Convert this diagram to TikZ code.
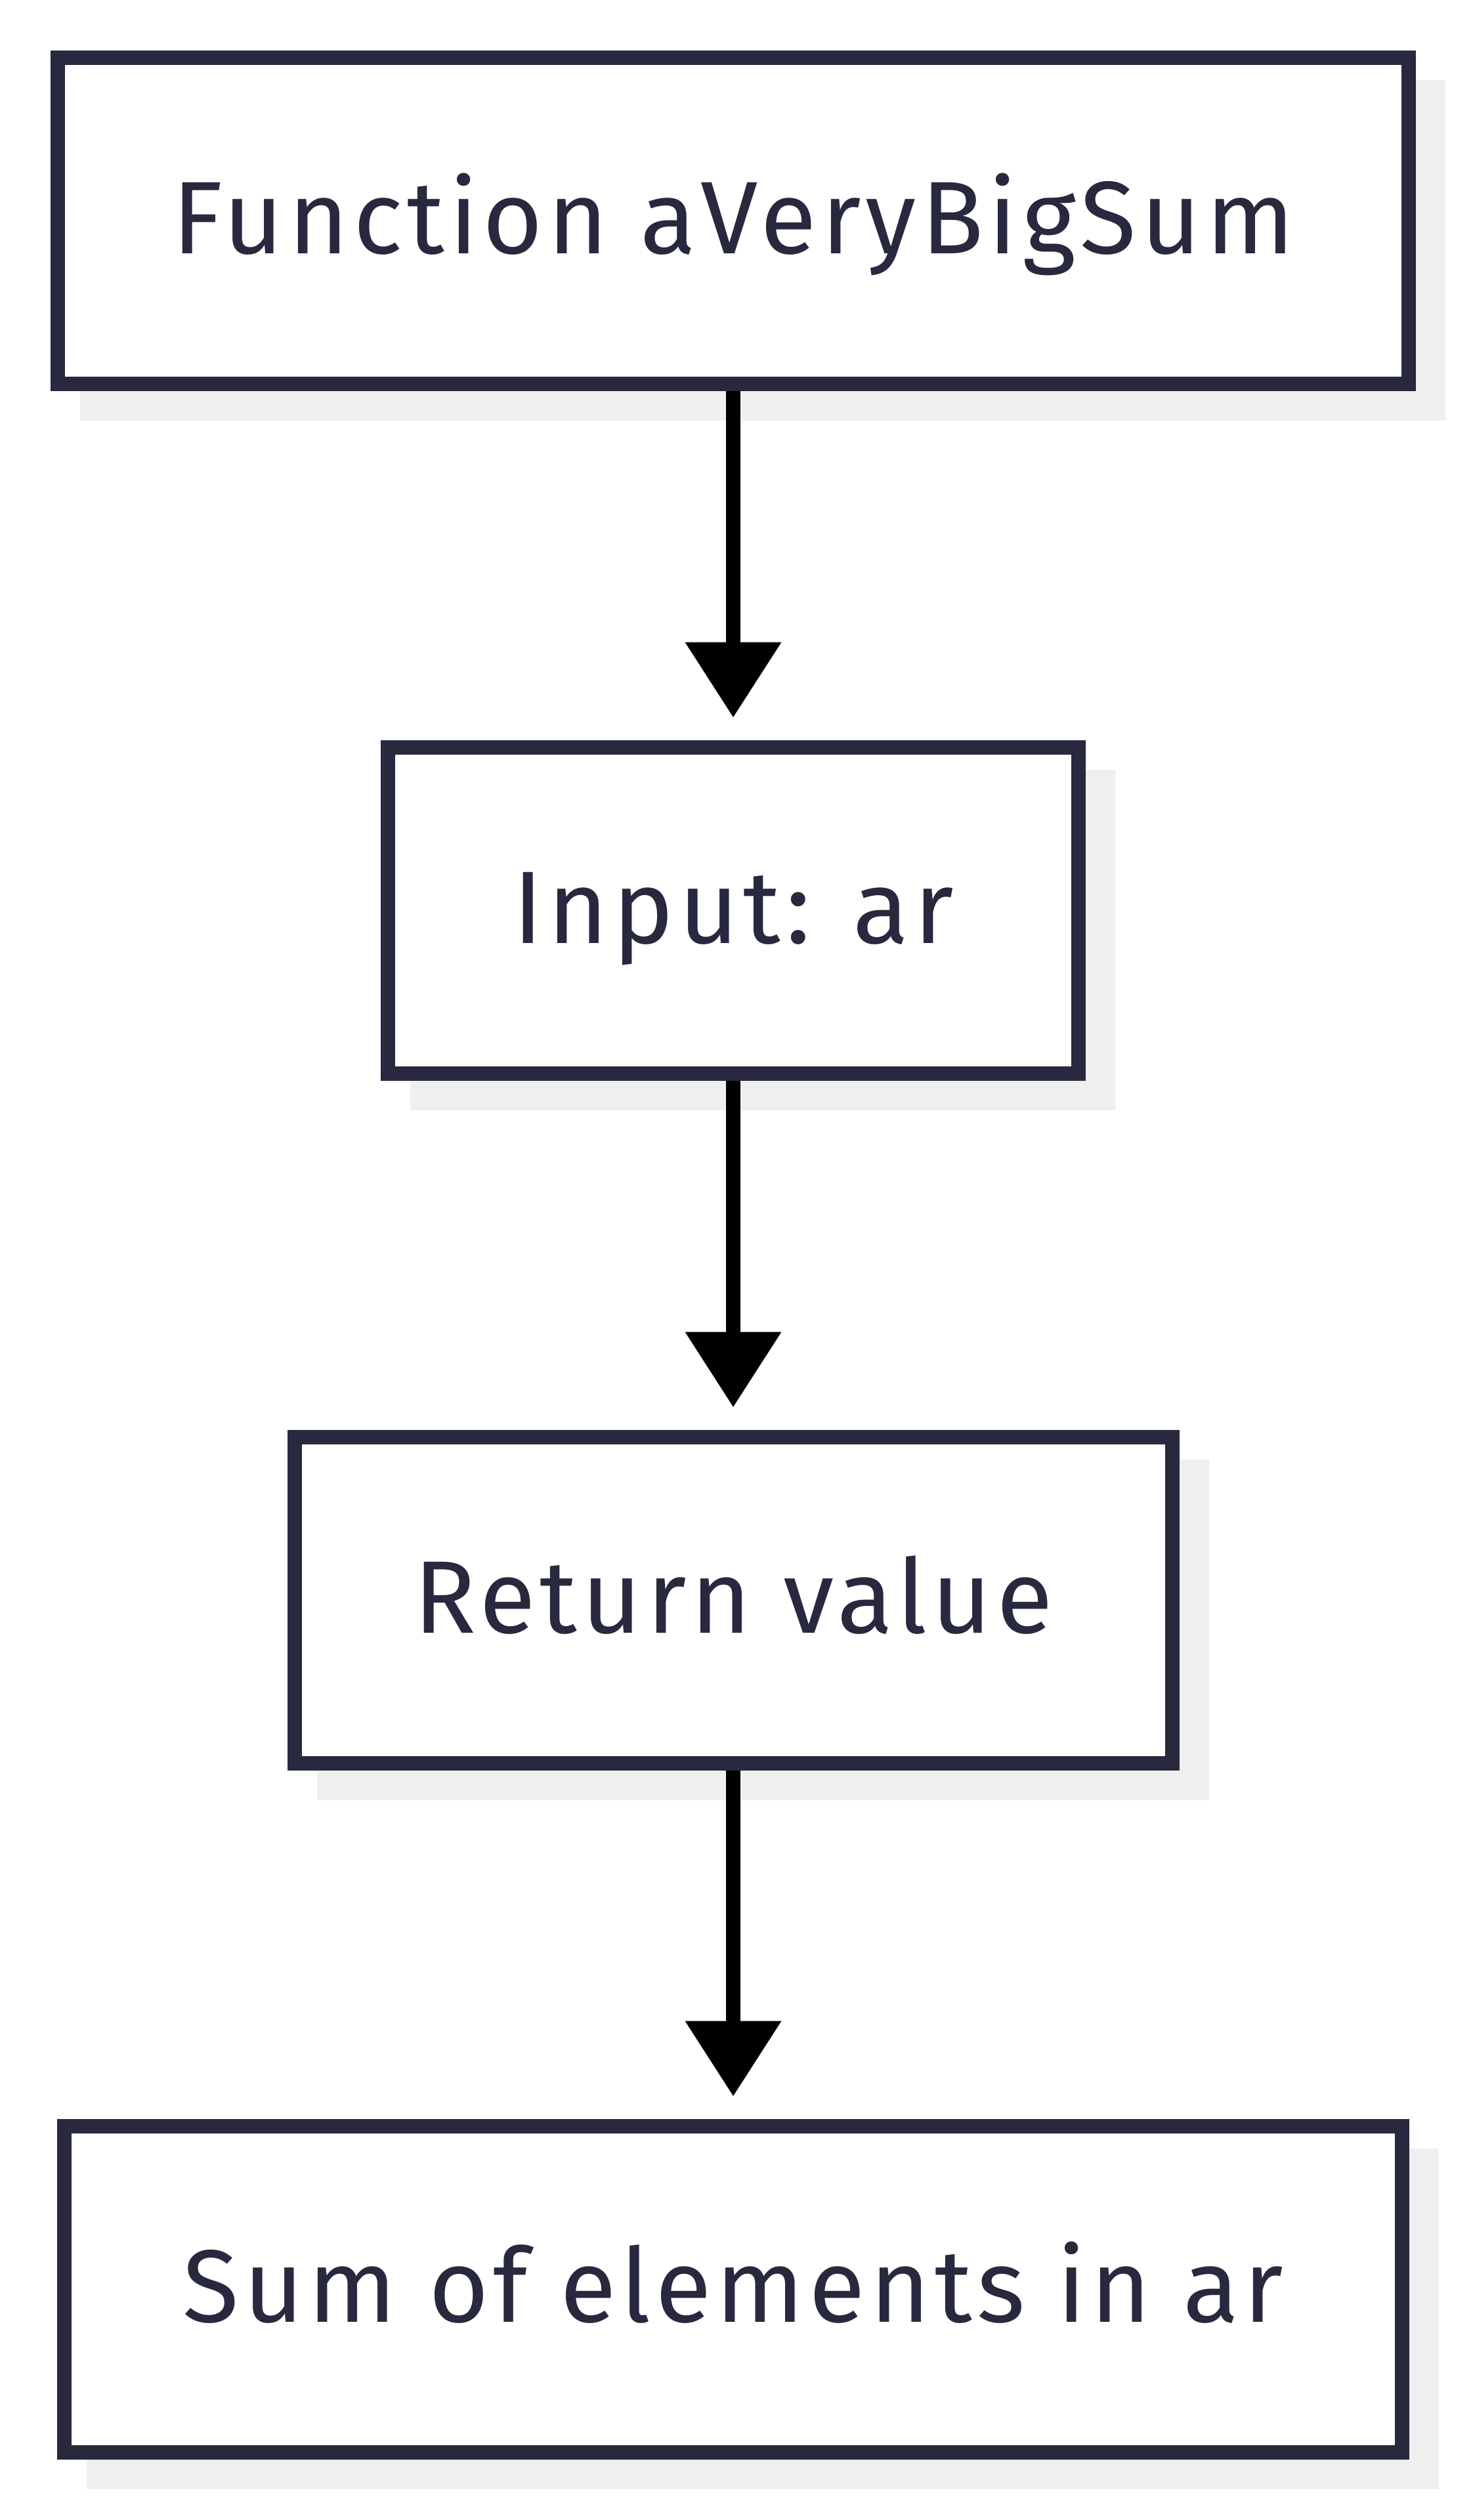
\documentclass[tikz,border=0pt]{standalone}
\usepackage{fontspec}
\setmainfont{Fira Sans}[LetterSpace=4.5]
\usetikzlibrary{arrows.meta,backgrounds}
\definecolor{boxline}{RGB}{40,40,62}
\definecolor{boxshadow}{RGB}{239,239,239}
\tikzset{
	box/.style={draw=boxline, line width=0.22cm, fill=white, inner sep=0pt, minimum height=4.97cm,
		text=boxline, font=\fontsize{44.7pt}{54pt}\selectfont, text height=1.3cm, text depth=0.29cm},
	flow/.style={line width=0.22cm, -{Triangle[width=1.41cm,length=1.15cm]}, shorten >=0.34cm}
}
\begin{document}
\begin{tikzpicture}
			\useasboundingbox (0,0) rectangle (22.43,-38.40);

			\node[box, minimum width=20.58cm] (func)  at (11.17, -3.365) {Function aVeryBigSum};
			\node[box, minimum width=10.52cm] (input) at (11.17,-13.87 ) {Input: ar};
			\node[box, minimum width=13.37cm] (ret)   at (11.17,-24.38 ) {Return value};
			\node[box, minimum width=20.38cm] (sum)   at (11.17,-34.88 ) {Sum of elements in ar};

			% shadows behind the boxes
			\begin{scope}[on background layer]
				\foreach \n in {func,input,ret,sum}
					\fill[boxshadow] ([shift={(0.45,-0.45)}]\n.north west) rectangle ([shift={(0.45,-0.45)}]\n.south east);
			\end{scope}

			\draw[flow] (func)  -- (input);
			\draw[flow] (input) -- (ret);
			\draw[flow] (ret)   -- (sum);
		\end{tikzpicture}
\end{document}
